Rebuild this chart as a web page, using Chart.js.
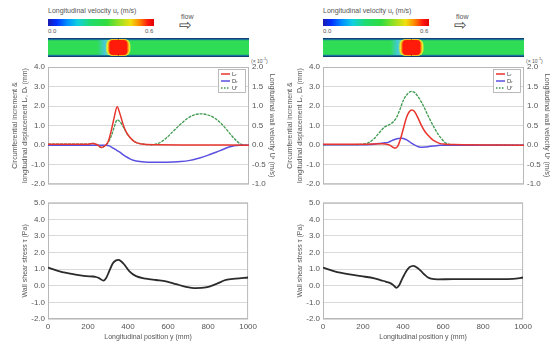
<!DOCTYPE html>
<html>
<head>
<meta charset="utf-8">
<script src="https://cdn.jsdelivr.net/npm/chart.js@4.4.1/dist/chart.umd.min.js"></script>
<style>
body { margin:0; background:#fff; font-family:"Liberation Sans", Arial, sans-serif; color:#555; }
#wrap { position:relative; width:551px; height:342px; overflow:hidden; }
canvas, .txt, .cbar { position:absolute; }
.txt { font-size:7px; white-space:nowrap; line-height:1; }
.cbar { width:106px; height:7px; top:19px;
  background:linear-gradient(to right, #1a1ab0 0%, #0030ff 8%, #0090ff 18%, #10d0e0 28%, #20dc70 40%, #30dc40 55%, #a0e020 68%, #f0e010 78%, #ff8000 87%, #ff1a10 94%, #e00000 100%); }
.arrow { font-size:15px; color:#444; }
</style>
</head>
<body>
<div id="wrap">
  <div class="txt" style="left:48px;top:7px">Longitudinal velocity u<sub style="font-size:5px">r</sub> (m/s)</div>
  <div class="cbar" style="left:48px"></div>
  <div class="txt" style="left:48px;top:28px;font-size:6px">0.0</div>
  <div class="txt" style="left:145px;top:28px;font-size:6px">0.6</div>
  <div class="txt" style="left:181px;top:13px">flow</div>
  <div class="txt arrow" style="left:179px;top:17px">⇨</div>

  <div class="txt" style="left:323px;top:7px">Longitudinal velocity u<sub style="font-size:5px">r</sub> (m/s)</div>
  <div class="cbar" style="left:323px"></div>
  <div class="txt" style="left:323px;top:28px;font-size:6px">0.0</div>
  <div class="txt" style="left:420px;top:28px;font-size:6px">0.6</div>
  <div class="txt" style="left:456px;top:13px">flow</div>
  <div class="txt arrow" style="left:454px;top:17px">⇨</div>

  <div class="txt" style="left:251px;top:57px;font-size:5px">(× 10<sup style="font-size:4px">-1</sup>)</div>
  <div class="txt" style="left:526px;top:57px;font-size:5px">(× 10<sup style="font-size:4px">-1</sup>)</div>

  <canvas id="fieldL" width="201" height="19" style="left:48px;top:38px"></canvas>
  <canvas id="fieldR" width="201" height="19" style="left:323px;top:38px"></canvas>
  <canvas id="upL" width="290" height="134" style="left:0;top:58px"></canvas>
  <canvas id="upR" width="290" height="134" style="left:275px;top:58px"></canvas>
  <canvas id="loL" width="260" height="147" style="left:0;top:195px"></canvas>
  <canvas id="loR" width="260" height="147" style="left:275px;top:195px"></canvas>
</div>
<script>
// ---- data (x = longitudinal position, mm) ----
const xTicks = [0, 200, 400, 600, 800, 1000];
const upperTicks = [-2, -1, 0, 1, 2, 3, 4];
const upperRightTicks = [-1, -0.5, 0, 0.5, 1, 1.5, 2];
const lowerTicks = [-2, -1, 0, 1, 2, 3, 4, 5];

// left panel (bolus near 350 mm)
const leftBlobMm = 350;
const leftLx = [0, 100, 200, 224, 245, 266, 285, 300, 316, 330, 344, 358, 374, 390, 407, 425, 440, 465, 490, 540, 700, 1000];
const leftLy = [0.05, 0.05, 0.05, 0.09, 0.02, -0.12, -0.02, 0.2, 0.8, 1.45, 1.97, 1.6, 1.05, 0.65, 0.4, 0.22, 0.13, 0.06, 0.03, 0.02, 0.01, 0.0];
const leftDx = [0, 290, 305, 316, 335, 357, 375, 390, 407, 424, 457, 500, 560, 620, 660, 706, 740, 772, 805, 839, 870, 900, 922, 950, 1000];
const leftDy = [0, 0, -0.04, -0.1, -0.22, -0.36, -0.5, -0.6, -0.7, -0.77, -0.84, -0.87, -0.87, -0.86, -0.84, -0.78, -0.7, -0.6, -0.48, -0.35, -0.22, -0.1, -0.04, 0, 0];
const leftUx = [0, 200, 224, 245, 266, 285, 300, 316, 330, 344, 358, 374, 390, 407, 425, 440, 465, 490, 515, 540, 565, 590, 620, 656, 690, 725, 764, 800, 830, 860, 890, 914, 940, 960, 980, 1000];
const leftUy = [0.025, 0.025, 0.045, 0.0, -0.06, -0.01, 0.075, 0.25, 0.47, 0.65, 0.6, 0.47, 0.32, 0.2, 0.11, 0.065, 0.035, 0.015, 0.01, 0.03, 0.09, 0.19, 0.34, 0.52, 0.67, 0.77, 0.8, 0.765, 0.69, 0.56, 0.39, 0.24, 0.1, 0.025, 0.0, 0.0];
const leftTx = [0, 58, 125, 191, 225, 240, 257, 277, 290, 305, 324, 340, 352, 365, 380, 407, 440, 490, 540, 590, 640, 689, 739, 789, 839, 889, 938, 1000];
const leftTy = [1.1, 0.87, 0.7, 0.58, 0.56, 0.53, 0.45, 0.31, 0.45, 0.85, 1.36, 1.53, 1.56, 1.48, 1.3, 0.87, 0.58, 0.43, 0.35, 0.27, 0.1, -0.06, -0.14, -0.1, 0.1, 0.35, 0.43, 0.5];

// right panel (bolus near 440 mm)
const rightBlobMm = 440;
const rightLx = [0, 200, 290, 310, 332, 350, 360, 372, 385, 400, 415, 430, 442, 455, 470, 490, 507, 523, 540, 556, 580, 606, 650, 1000];
const rightLy = [0.05, 0.05, 0.07, 0.06, 0.0, -0.12, -0.15, -0.05, 0.3, 0.85, 1.4, 1.72, 1.8, 1.72, 1.45, 1.0, 0.7, 0.5, 0.32, 0.2, 0.09, 0.05, 0.03, 0.0];
const rightDx = [0, 150, 257, 291, 310, 324, 340, 357, 375, 393, 410, 424, 440, 457, 475, 490, 507, 523, 545, 573, 600, 1000];
const rightDy = [0.02, 0.02, 0.05, 0.1, 0.12, 0.14, 0.22, 0.29, 0.34, 0.35, 0.3, 0.22, 0.1, 0.0, -0.08, -0.11, -0.1, -0.08, -0.04, -0.02, 0.0, 0.0];
const rightUx = [0, 150, 200, 225, 245, 265, 285, 305, 320, 335, 350, 365, 382, 400, 420, 440, 455, 470, 490, 507, 523, 540, 556, 573, 590, 606, 625, 650, 1000];
const rightUy = [0.01, 0.015, 0.025, 0.06, 0.125, 0.225, 0.35, 0.46, 0.5, 0.54, 0.6, 0.7, 0.9, 1.15, 1.31, 1.375, 1.35, 1.26, 1.1, 0.925, 0.75, 0.575, 0.425, 0.275, 0.16, 0.07, 0.025, 0.01, 0.0];
const rightTx = [0, 58, 125, 191, 257, 291, 316, 341, 355, 366, 380, 395, 407, 420, 432, 452, 473, 490, 507, 525, 540, 573, 650, 800, 950, 1000];
const rightTy = [1.1, 0.87, 0.7, 0.58, 0.45, 0.33, 0.24, 0.13, 0.0, -0.12, 0.02, 0.4, 0.68, 0.95, 1.12, 1.2, 1.07, 0.88, 0.68, 0.5, 0.43, 0.39, 0.4, 0.4, 0.42, 0.5];

const FONT = '"Liberation Sans", Arial, sans-serif';
Chart.defaults.font.family = FONT;
Chart.defaults.font.size = 8;
Chart.defaults.color = '#555';

const pts = (xs, ys) => xs.map((x, i) => ({x: x, y: ys[i]}));
const fixTicks = arr => s => { s.ticks = arr.map(v => ({value: v})); };

// grey box round the plot area
const frame = {
  id: 'frame',
  beforeDatasetsDraw(chart) {
    const {ctx, chartArea: a} = chart;
    ctx.save();
    ctx.strokeStyle = '#b8b8b8';
    ctx.lineWidth = 1;
    ctx.strokeRect(a.left + 0.5, a.top + 0.5, a.right - a.left - 1, a.bottom - a.top - 1);
    ctx.restore();
  }
};

// small boxed legend in the top right corner
const boxLegend = {
  id: 'boxLegend',
  afterDatasetsDraw(chart) {
    const {ctx, chartArea: a} = chart;
    const w = 27, h = 23, left = a.right - w - 4, top = a.top + 2;
    ctx.save();
    ctx.fillStyle = '#fff';
    ctx.fillRect(left, top, w, h);
    ctx.strokeStyle = '#aaa';
    ctx.lineWidth = 0.8;
    ctx.strokeRect(left + 0.5, top + 0.5, w, h);
    ctx.font = '6px ' + FONT;
    ctx.textBaseline = 'middle';
    chart.data.datasets.forEach((d, i) => {
      const y = top + 5 + i * 7;
      ctx.strokeStyle = d.borderColor;
      ctx.lineWidth = d.borderWidth;
      ctx.setLineDash(d.legendDash || []);
      ctx.beginPath(); ctx.moveTo(left + 3, y); ctx.lineTo(left + 12, y); ctx.stroke();
      ctx.setLineDash([]);
      ctx.fillStyle = '#444';
      ctx.fillText(d.label, left + 14, y);
    });
    ctx.restore();
  }
};

// velocity field strip, bolus placed through the x scale
const field = {
  id: 'field',
  afterDraw(chart, args, o) {
    const {ctx, chartArea: a, scales: {x}} = chart;
    const h = a.bottom - a.top, w = a.right - a.left;
    const cx = x.getPixelForValue(o.center);
    const half = x.getPixelForValue(o.center + o.halfWidth) - cx;
    ctx.save();
    ctx.fillStyle = '#2fdc55';
    ctx.fillRect(a.left, a.top, w, h);
    let g = ctx.createLinearGradient(0, a.top, 0, a.bottom);
    g.addColorStop(0, '#0c2a60'); g.addColorStop(0.09, '#1a7fa0'); g.addColorStop(0.17, 'rgba(47,220,85,0)');
    g.addColorStop(0.83, 'rgba(47,220,85,0)'); g.addColorStop(0.91, '#1a7fa0'); g.addColorStop(1, '#0c2a60');
    ctx.fillStyle = g;
    ctx.fillRect(a.left, a.top, w, h);
    g = ctx.createLinearGradient(cx - half - 12, 0, cx - half, 0);
    g.addColorStop(0, 'rgba(70,200,230,0)'); g.addColorStop(0.6, 'rgba(70,200,235,0.85)'); g.addColorStop(1, 'rgba(150,230,120,0.9)');
    ctx.fillStyle = g;
    ctx.fillRect(cx - half - 12, a.top + 2, 12, h - 4);
    ctx.fillStyle = '#e6e830';
    ctx.beginPath(); ctx.roundRect(cx - half - 3, a.top + 1, 2 * half + 6, h - 2, 6); ctx.fill();
    ctx.fillStyle = '#ff8a10';
    ctx.beginPath(); ctx.roundRect(cx - half - 1.2, a.top + 1.5, 2 * half + 2.4, h - 3, 5); ctx.fill();
    ctx.fillStyle = '#ff1a0a';
    ctx.beginPath(); ctx.roundRect(cx - half, a.top + 2, 2 * half, h - 4, 4); ctx.fill();
    ctx.strokeStyle = 'rgba(40,40,40,0.6)';
    ctx.lineWidth = 0.8;
    ctx.beginPath(); ctx.moveTo(cx, a.top); ctx.lineTo(cx, a.top + 2.5); ctx.moveTo(cx, a.bottom - 2.5); ctx.lineTo(cx, a.bottom); ctx.stroke();
    ctx.restore();
  }
};

function fieldChart(id, center) {
  new Chart(document.getElementById(id), {
    type: 'line',
    data: {datasets: []},
    plugins: [field],
    options: {
      responsive: false, animation: false, devicePixelRatio: 1,
      layout: {padding: 0},
      plugins: {legend: {display: false}, tooltip: {enabled: false}, field: {center: center, halfWidth: 45}},
      scales: {
        x: {type: 'linear', min: 0, max: 1000, display: false},
        y: {min: 0, max: 1, display: false}
      }
    }
  });
}

const titleFont = {size: 7, lineHeight: 1.4};

function upperChart(id, Lx, Ly, Dx, Dy, Ux, Uy) {
  new Chart(document.getElementById(id), {
    type: 'line',
    data: {
      datasets: [
        {label: 'Lᵣ', data: pts(Lx, Ly), borderColor: '#e8352d', borderWidth: 1.5, yAxisID: 'y'},
        {label: 'Dᵣ', data: pts(Dx, Dy), borderColor: '#5a50e0', borderWidth: 1.5, yAxisID: 'y'},
        {label: 'Uʳ', data: pts(Ux, Uy), borderColor: '#3f9a4f', borderWidth: 1.3, borderDash: [3, 1], legendDash: [1.5, 1.5], yAxisID: 'y1'}
      ]
    },
    plugins: [frame, boxLegend],
    options: {
      responsive: false, animation: false, devicePixelRatio: 1,
      layout: {padding: {top: 9, bottom: 5, left: 0, right: 0}},
      elements: {point: {radius: 0}, line: {cubicInterpolationMode: 'monotone'}},
      plugins: {legend: {display: false}, tooltip: {enabled: false}},
      scales: {
        x: {type: 'linear', min: 0, max: 1000, display: false},
        y: {
          position: 'left', min: -2, max: 4,
          afterFit(s) { s.width = 48; },
          afterBuildTicks: fixTicks(upperTicks),
          ticks: {callback: v => v.toFixed(1), padding: 3},
          grid: {color: '#d9d9d9', drawTicks: false},
          border: {display: false},
          title: {display: true, text: ['Circumferential increment &', 'longitudinal displacement Lᵣ, Dᵣ (mm)'],
                  font: titleFont, color: '#555', padding: {top: 10, bottom: 0}}
        },
        y1: {
          position: 'right', min: -1, max: 2,
          afterFit(s) { s.width = 41; },
          afterBuildTicks: fixTicks(upperRightTicks),
          ticks: {callback: v => v.toFixed(1), padding: 3},
          grid: {display: false, drawTicks: false},
          border: {display: false},
          title: {display: true, text: 'Longitudinal wall velocity Uʳ (m/s)',
                  font: titleFont, color: '#555', padding: {top: 13, bottom: 0}}
        }
      }
    }
  });
}

function lowerChart(id, Tx, Ty) {
  new Chart(document.getElementById(id), {
    type: 'line',
    data: {
      datasets: [{label: 'τ', data: pts(Tx, Ty), borderColor: '#2b2b2b', borderWidth: 1.8}]
    },
    plugins: [frame],
    options: {
      responsive: false, animation: false, devicePixelRatio: 1,
      layout: {padding: {top: 4, bottom: 0, left: 0, right: 11}},
      elements: {point: {radius: 0}, line: {cubicInterpolationMode: 'monotone'}},
      plugins: {legend: {display: false}, tooltip: {enabled: false}},
      scales: {
        x: {
          type: 'linear', min: 0, max: 1000,
          afterFit(s) { s.height = 23; },
          afterBuildTicks: fixTicks(xTicks),
          ticks: {callback: v => String(v), padding: 3, maxRotation: 0},
          grid: {display: false, drawTicks: false},
          border: {display: false},
          title: {display: true, text: 'Longitudinal position y (mm)', font: titleFont, color: '#555', padding: {top: 0, bottom: 0}}
        },
        y: {
          min: -2, max: 5,
          afterFit(s) { s.width = 48; },
          afterBuildTicks: fixTicks(lowerTicks),
          ticks: {callback: v => v.toFixed(1), padding: 3},
          grid: {color: '#d9d9d9', drawTicks: false},
          border: {display: false},
          title: {display: true, text: 'Wall shear stress τ (Pa)', font: titleFont, color: '#555', padding: {top: 20, bottom: 0}}
        }
      }
    }
  });
}

fieldChart('fieldL', leftBlobMm);
fieldChart('fieldR', rightBlobMm);
upperChart('upL', leftLx, leftLy, leftDx, leftDy, leftUx, leftUy);
upperChart('upR', rightLx, rightLy, rightDx, rightDy, rightUx, rightUy);
lowerChart('loL', leftTx, leftTy);
lowerChart('loR', rightTx, rightTy);
</script>
</body>
</html>
